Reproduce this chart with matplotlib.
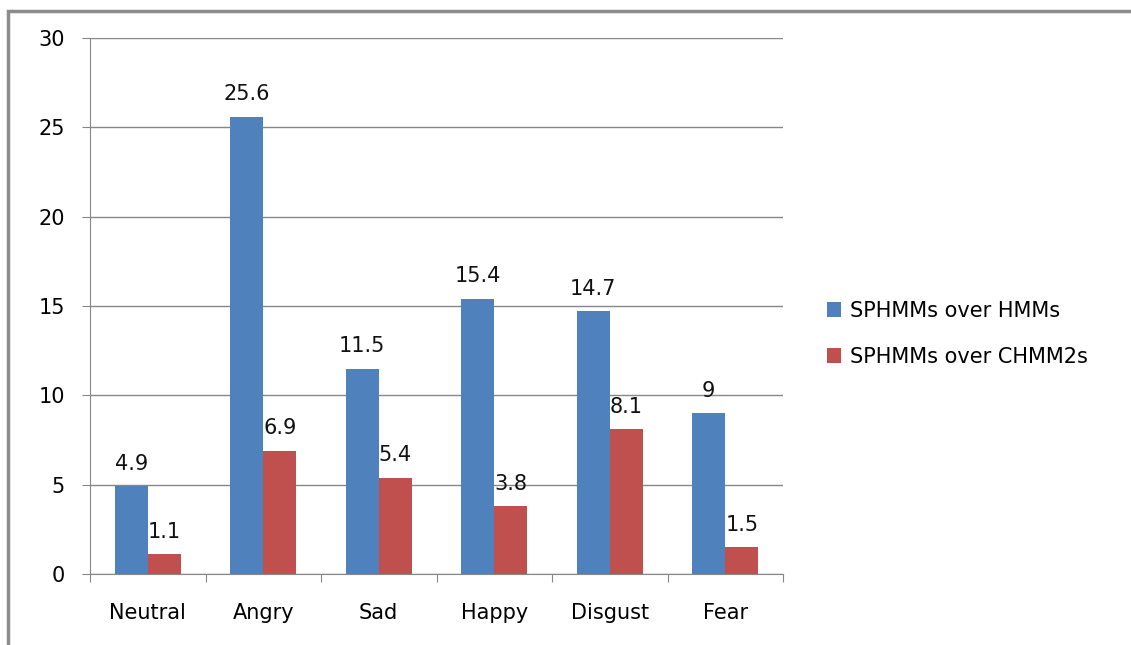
import numpy as np
import matplotlib.pyplot as plt
from matplotlib.patches import Rectangle

categories = ['Neutral', 'Angry', 'Sad', 'Happy', 'Disgust', 'Fear']
hmm_vals = [4.9, 25.6, 11.5, 15.4, 14.7, 9]
chmm_vals = [1.1, 6.9, 5.4, 3.8, 8.1, 1.5]
hmm_labels = ['4.9', '25.6', '11.5', '15.4', '14.7', '9']
chmm_labels = ['1.1', '6.9', '5.4', '3.8', '8.1', '1.5']
series_names = ['SPHMMs over HMMs', 'SPHMMs over CHMM2s']

blue = '#4F81BD'
red = '#C0504D'
grid_c = '#878787'

fig = plt.figure(figsize=(11.31, 6.45), dpi=100)
ax = fig.add_axes([90 / 1131, 1 - 574 / 645, (783 - 90) / 1131, (574 - 38) / 645])

x = np.arange(len(categories))
w = 1 / 3.5
b1 = ax.bar(x - w / 2, hmm_vals, w, color=blue, label=series_names[0])
b2 = ax.bar(x + w / 2, chmm_vals, w, color=red, label=series_names[1])

for bars, labs in ((b1, hmm_labels), (b2, chmm_labels)):
    for r, t in zip(bars, labs):
        ax.annotate(t, (r.get_x() + r.get_width() / 2, r.get_height()),
                    xytext=(0, 9), textcoords='offset points',
                    ha='center', va='bottom', fontsize=15, color='#111111')

ax.set_xlim(-0.5, len(categories) - 0.5)
ax.set_ylim(0, 30)
ax.set_yticks(range(0, 31, 5))
ax.yaxis.grid(True, color=grid_c, linewidth=1)
ax.set_axisbelow(True)

# category boundary ticks
ax.set_xticks(np.arange(-0.5, len(categories)), minor=False)
ax.set_xticklabels([])
ax.set_xticks(x, minor=True)
ax.set_xticklabels(categories, minor=True)
ax.tick_params(axis='x', which='major', length=6, direction='out', color=grid_c)
ax.tick_params(axis='x', which='minor', length=0, pad=21, labelsize=15)
ax.tick_params(axis='y', length=6, color=grid_c, pad=12, labelsize=15)

for s in ['top', 'right']:
    ax.spines[s].set_visible(False)
for s in ['left', 'bottom']:
    ax.spines[s].set_color(grid_c)

leg = fig.legend(handles=[b1, b2], loc='upper left', bbox_to_anchor=(808 / 1131, 1 - 282 / 645),
                 frameon=False, fontsize=15, handlelength=0.7, handleheight=0.7,
                 handletextpad=0.4, labelspacing=1.25)

# outer chart border
fig.patches.append(Rectangle((8 / 1131, -0.1), 1.2, 1 - 11 / 645 + 0.1,
                             transform=fig.transFigure, fill=False,
                             edgecolor='#8c8c8c', linewidth=2.5))

fig.savefig('out.png', dpi=100)
